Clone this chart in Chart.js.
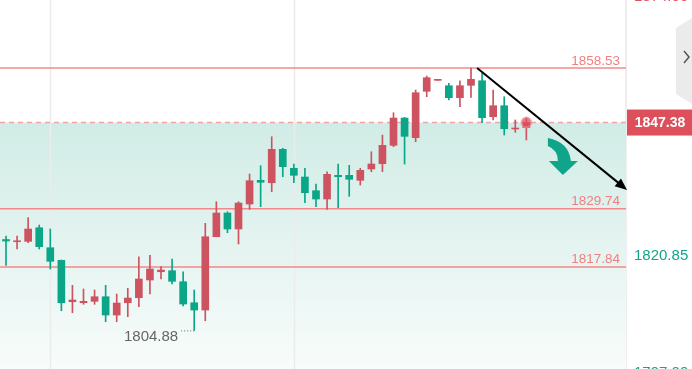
<!DOCTYPE html>
<html>
<head>
<meta charset="utf-8">
<script src="https://cdn.jsdelivr.net/npm/chart.js@4"></script>
<style>
  html, body { margin: 0; padding: 0; background: #fff; }
  canvas { display: block; }
</style>
</head>
<body>
<canvas id="klineChart" width="692" height="369"></canvas>
<script>
// OHLC, one entry per candle (left to right)
const candleOpen = [1823.46, 1823.01, 1823.09, 1825.87, 1821.78, 1819.20, 1810.74, 1810.53, 1810.82, 1811.76,
  1808.02, 1810.53, 1811.56, 1815.18, 1816.87, 1817.08, 1814.83, 1810.53, 1809.04, 1824.03,
  1828.88, 1825.61, 1830.72, 1835.56, 1835.07, 1841.90, 1838.02, 1836.24, 1833.44, 1831.74,
  1836.59, 1836.59, 1835.56, 1837.88, 1838.96, 1842.72, 1848.30, 1844.28, 1853.77, 1856.01,
  1854.91, 1852.46, 1854.99, 1855.93, 1848.57, 1850.82, 1846.06, 1846.32];
const candleClose = [1823.15, 1823.21, 1825.61, 1821.99, 1819.00, 1810.53, 1811.09, 1810.82, 1811.76, 1808.02,
  1810.47, 1811.49, 1815.38, 1817.43, 1817.22, 1814.91, 1810.27, 1809.04, 1824.03, 1828.88,
  1825.61, 1830.92, 1835.48, 1835.16, 1841.90, 1838.35, 1836.59, 1833.03, 1831.74, 1836.79,
  1836.30, 1835.77, 1837.61, 1838.90, 1842.72, 1848.30, 1844.56, 1853.48, 1856.55, 1856.22,
  1852.46, 1854.91, 1856.22, 1848.37, 1850.82, 1846.12, 1846.26, 1847.38];
const candleHigh = [1824.17, 1824.17, 1827.92, 1826.42, 1825.61, 1819.27, 1814.09, 1813.34, 1813.13, 1814.09,
  1812.31, 1813.48, 1819.94, 1820.23, 1817.90, 1819.47, 1816.87, 1813.13, 1826.77, 1831.19,
  1829.14, 1831.19, 1836.85, 1838.55, 1844.48, 1842.11, 1838.90, 1838.02, 1834.81, 1837.32,
  1838.90, 1838.63, 1838.02, 1841.41, 1844.83, 1849.39, 1848.45, 1854.03, 1856.89, 1856.22,
  1855.40, 1855.93, 1858.53, 1857.45, 1854.03, 1852.66, 1847.90, 1848.45];
const candleLow = [1818.18, 1821.52, 1822.80, 1821.52, 1817.43, 1808.90, 1808.49, 1810.21, 1810.21, 1806.65,
  1806.65, 1807.67, 1809.72, 1812.31, 1815.38, 1814.36, 1809.86, 1804.88, 1806.85, 1824.03,
  1824.85, 1822.54, 1829.63, 1830.17, 1833.23, 1836.30, 1835.07, 1830.98, 1830.17, 1829.63,
  1829.96, 1832.29, 1834.60, 1837.32, 1837.32, 1842.44, 1838.90, 1843.46, 1852.66, 1856.01,
  1851.99, 1850.62, 1852.54, 1847.34, 1847.90, 1844.83, 1845.38, 1843.81];

const levelLines = [1858.53, 1829.74, 1817.84];
const lastPrice = 1847.38;
const lowMark = { index: 17, price: 1804.88 };
const yTickValues = [1874.0, 1820.85, 1797.0];
const yTickColors = ['#e0525e', '#14a589', '#14a589'];
const xGridAt = [4, 26];
const trendFrom = { x: 42.55, y: 1858.53 };
const trendTo = { x: 56.1, y: 1833.6 };
const turnArrowAt = { x: 50.3, y: 1839.7 };

const UP = '#cd5360';
const DOWN = '#0ba587';
const FONT = "'Liberation Sans', Arial, sans-serif";

const idx = candleOpen.map((_, i) => i);
const bodies = idx.map(i => ({ x: i, y: [candleOpen[i], candleClose[i]] }));
const wicks = idx.map(i => ({ x: i, y: [candleLow[i], candleHigh[i]] }));
const candleColor = i => candleClose[i] >= candleOpen[i] ? UP : DOWN;

const overlay = {
  id: 'overlay',
  beforeDatasetsDraw(chart) {
    const { ctx, chartArea: a, scales: { x, y } } = chart;
    ctx.save();
    // shaded zone below last price
    const top = y.getPixelForValue(lastPrice);
    const g = ctx.createLinearGradient(0, top, 0, a.bottom);
    g.addColorStop(0, '#d1ece6');
    g.addColorStop(1, '#f8fcfb');
    ctx.fillStyle = g;
    ctx.fillRect(a.left, top, a.right - a.left, a.bottom - top);
    // faint vertical grid
    ctx.strokeStyle = '#ececec';
    ctx.lineWidth = 1.5;
    xGridAt.forEach(v => {
      const px = Math.round(x.getPixelForValue(v)) + 0.5;
      ctx.beginPath(); ctx.moveTo(px, a.top); ctx.lineTo(px, a.bottom); ctx.stroke();
    });
    // level lines
    ctx.strokeStyle = '#f28888';
    ctx.lineWidth = 1.5;
    ctx.fillStyle = '#f27f80';
    ctx.font = '13.5px ' + FONT;
    ctx.textAlign = 'right';
    ctx.textBaseline = 'alphabetic';
    levelLines.forEach(v => {
      const py = y.getPixelForValue(v);
      ctx.beginPath(); ctx.moveTo(a.left, py); ctx.lineTo(a.right, py); ctx.stroke();
      ctx.fillText(v.toFixed(2), a.right - 6, py - 3.5);
    });
    // dashed last price line
    ctx.strokeStyle = '#f2a3a3';
    ctx.setLineDash([5, 4]);
    ctx.beginPath(); ctx.moveTo(a.left, top); ctx.lineTo(a.right, top); ctx.stroke();
    ctx.restore();
  },
  afterDraw(chart) {
    const { ctx, chartArea: a, scales: { x, y } } = chart;
    ctx.save();
    // lowest price marker
    const lx = x.getPixelForValue(lowMark.index);
    const ly = y.getPixelForValue(lowMark.price);
    ctx.strokeStyle = '#666';
    ctx.lineWidth = 1;
    ctx.setLineDash([1, 2]);
    ctx.beginPath(); ctx.moveTo(lx - 13, ly + 0.5); ctx.lineTo(lx, ly + 0.5); ctx.stroke();
    ctx.setLineDash([]);
    ctx.fillStyle = '#666';
    ctx.font = '15px ' + FONT;
    ctx.textAlign = 'right';
    ctx.textBaseline = 'middle';
    ctx.fillText(lowMark.price.toFixed(2), lx - 16, ly + 6);

    // black trend arrow
    const x1 = x.getPixelForValue(trendFrom.x), y1 = y.getPixelForValue(trendFrom.y);
    const x2 = x.getPixelForValue(trendTo.x), y2 = y.getPixelForValue(trendTo.y);
    const ang = Math.atan2(y2 - y1, x2 - x1);
    ctx.strokeStyle = '#000';
    ctx.fillStyle = '#000';
    ctx.lineWidth = 2;
    ctx.beginPath(); ctx.moveTo(x1, y1);
    ctx.lineTo(x2 - 8 * Math.cos(ang), y2 - 8 * Math.sin(ang)); ctx.stroke();
    ctx.beginPath();
    ctx.moveTo(x2, y2);
    ctx.lineTo(x2 - 12 * Math.cos(ang) + 5 * Math.sin(ang), y2 - 12 * Math.sin(ang) - 5 * Math.cos(ang));
    ctx.lineTo(x2 - 12 * Math.cos(ang) - 5 * Math.sin(ang), y2 - 12 * Math.sin(ang) + 5 * Math.cos(ang));
    ctx.closePath(); ctx.fill();

    // green curved arrow
    const cx = x.getPixelForValue(turnArrowAt.x), cy = y.getPixelForValue(turnArrowAt.y);
    ctx.fillStyle = '#10a58a';
    ctx.beginPath();
    ctx.moveTo(cx - 15, cy - 22);
    ctx.quadraticCurveTo(cx + 6, cy - 18, cx + 8, cy + 1);
    ctx.lineTo(cx - 5, cy + 1);
    ctx.quadraticCurveTo(cx - 5, cy - 10, cx - 15, cy - 14);
    ctx.closePath(); ctx.fill();
    ctx.beginPath();
    ctx.moveTo(cx - 14, cy + 1);
    ctx.lineTo(cx + 15, cy + 1);
    ctx.lineTo(cx, cy + 15);
    ctx.closePath(); ctx.fill();

    // right side: collapse tab
    ctx.fillStyle = '#ebebeb';
    ctx.beginPath();
    ctx.moveTo(692, 18); ctx.lineTo(676, 28); ctx.lineTo(676, 94); ctx.lineTo(692, 104);
    ctx.closePath(); ctx.fill();
    ctx.strokeStyle = '#555';
    ctx.lineWidth = 1.5;
    ctx.beginPath(); ctx.moveTo(684, 51); ctx.lineTo(689, 57); ctx.lineTo(684, 63); ctx.stroke();

    // last price box
    const py = y.getPixelForValue(lastPrice);
    ctx.fillStyle = '#dc4f5b';
    ctx.fillRect(a.right + 1, py - 13, 692 - a.right, 26);
    ctx.fillStyle = '#fff';
    ctx.font = 'bold 14px ' + FONT;
    ctx.textAlign = 'center';
    ctx.textBaseline = 'middle';
    ctx.fillText(lastPrice.toFixed(2), (a.right + 692) / 2 + 1, py + 1);
    ctx.restore();
  }
};

new Chart(document.getElementById('klineChart'), {
  type: 'bar',
  data: {
    datasets: [
      {
        label: 'body',
        data: bodies,
        backgroundColor: ctx => candleColor(ctx.dataIndex),
        barThickness: 7,
        grouped: false,
        order: 1
      },
      {
        label: 'wick',
        data: wicks,
        backgroundColor: ctx => candleColor(ctx.dataIndex),
        barThickness: 1,
        grouped: false,
        order: 2
      },
      {
        type: 'scatter',
        label: 'last',
        data: [{ x: idx.length - 1, y: lastPrice }],
        pointRadius: 5,
        pointBackgroundColor: 'rgba(222, 80, 92, 0.75)',
        pointBorderColor: 'rgba(240, 150, 158, 0.6)',
        pointBorderWidth: 2,
        order: 0
      }
    ]
  },
  options: {
    responsive: false,
    animation: false,
    devicePixelRatio: 1,
    layout: { padding: 0, autoPadding: false },
    plugins: { legend: { display: false }, tooltip: { enabled: false } },
    scales: {
      x: {
        type: 'linear',
        min: -0.542,
        max: 56.0,
        offset: false,
        grid: { offset: false },
        display: false
      },
      y: {
        position: 'right',
        min: 1796.98,
        max: 1872.44,
        afterFit: s => {
          s.width = 66;
          s.paddingTop = 0;
          s.paddingBottom = 0;
        },
        afterBuildTicks: s => { s.ticks = yTickValues.map(v => ({ value: v })); },
        grid: { color: '#eaeaea', drawTicks: false },
        border: { color: '#eeeeee', width: 2 },
        ticks: {
          padding: 8,
          labelOffset: 4,
          font: { family: FONT, size: 15 },
          color: c => yTickColors[c.index],
          callback: v => Number(v).toFixed(2)
        }
      }
    }
  },
  plugins: [overlay]
});
</script>
</body>
</html>
